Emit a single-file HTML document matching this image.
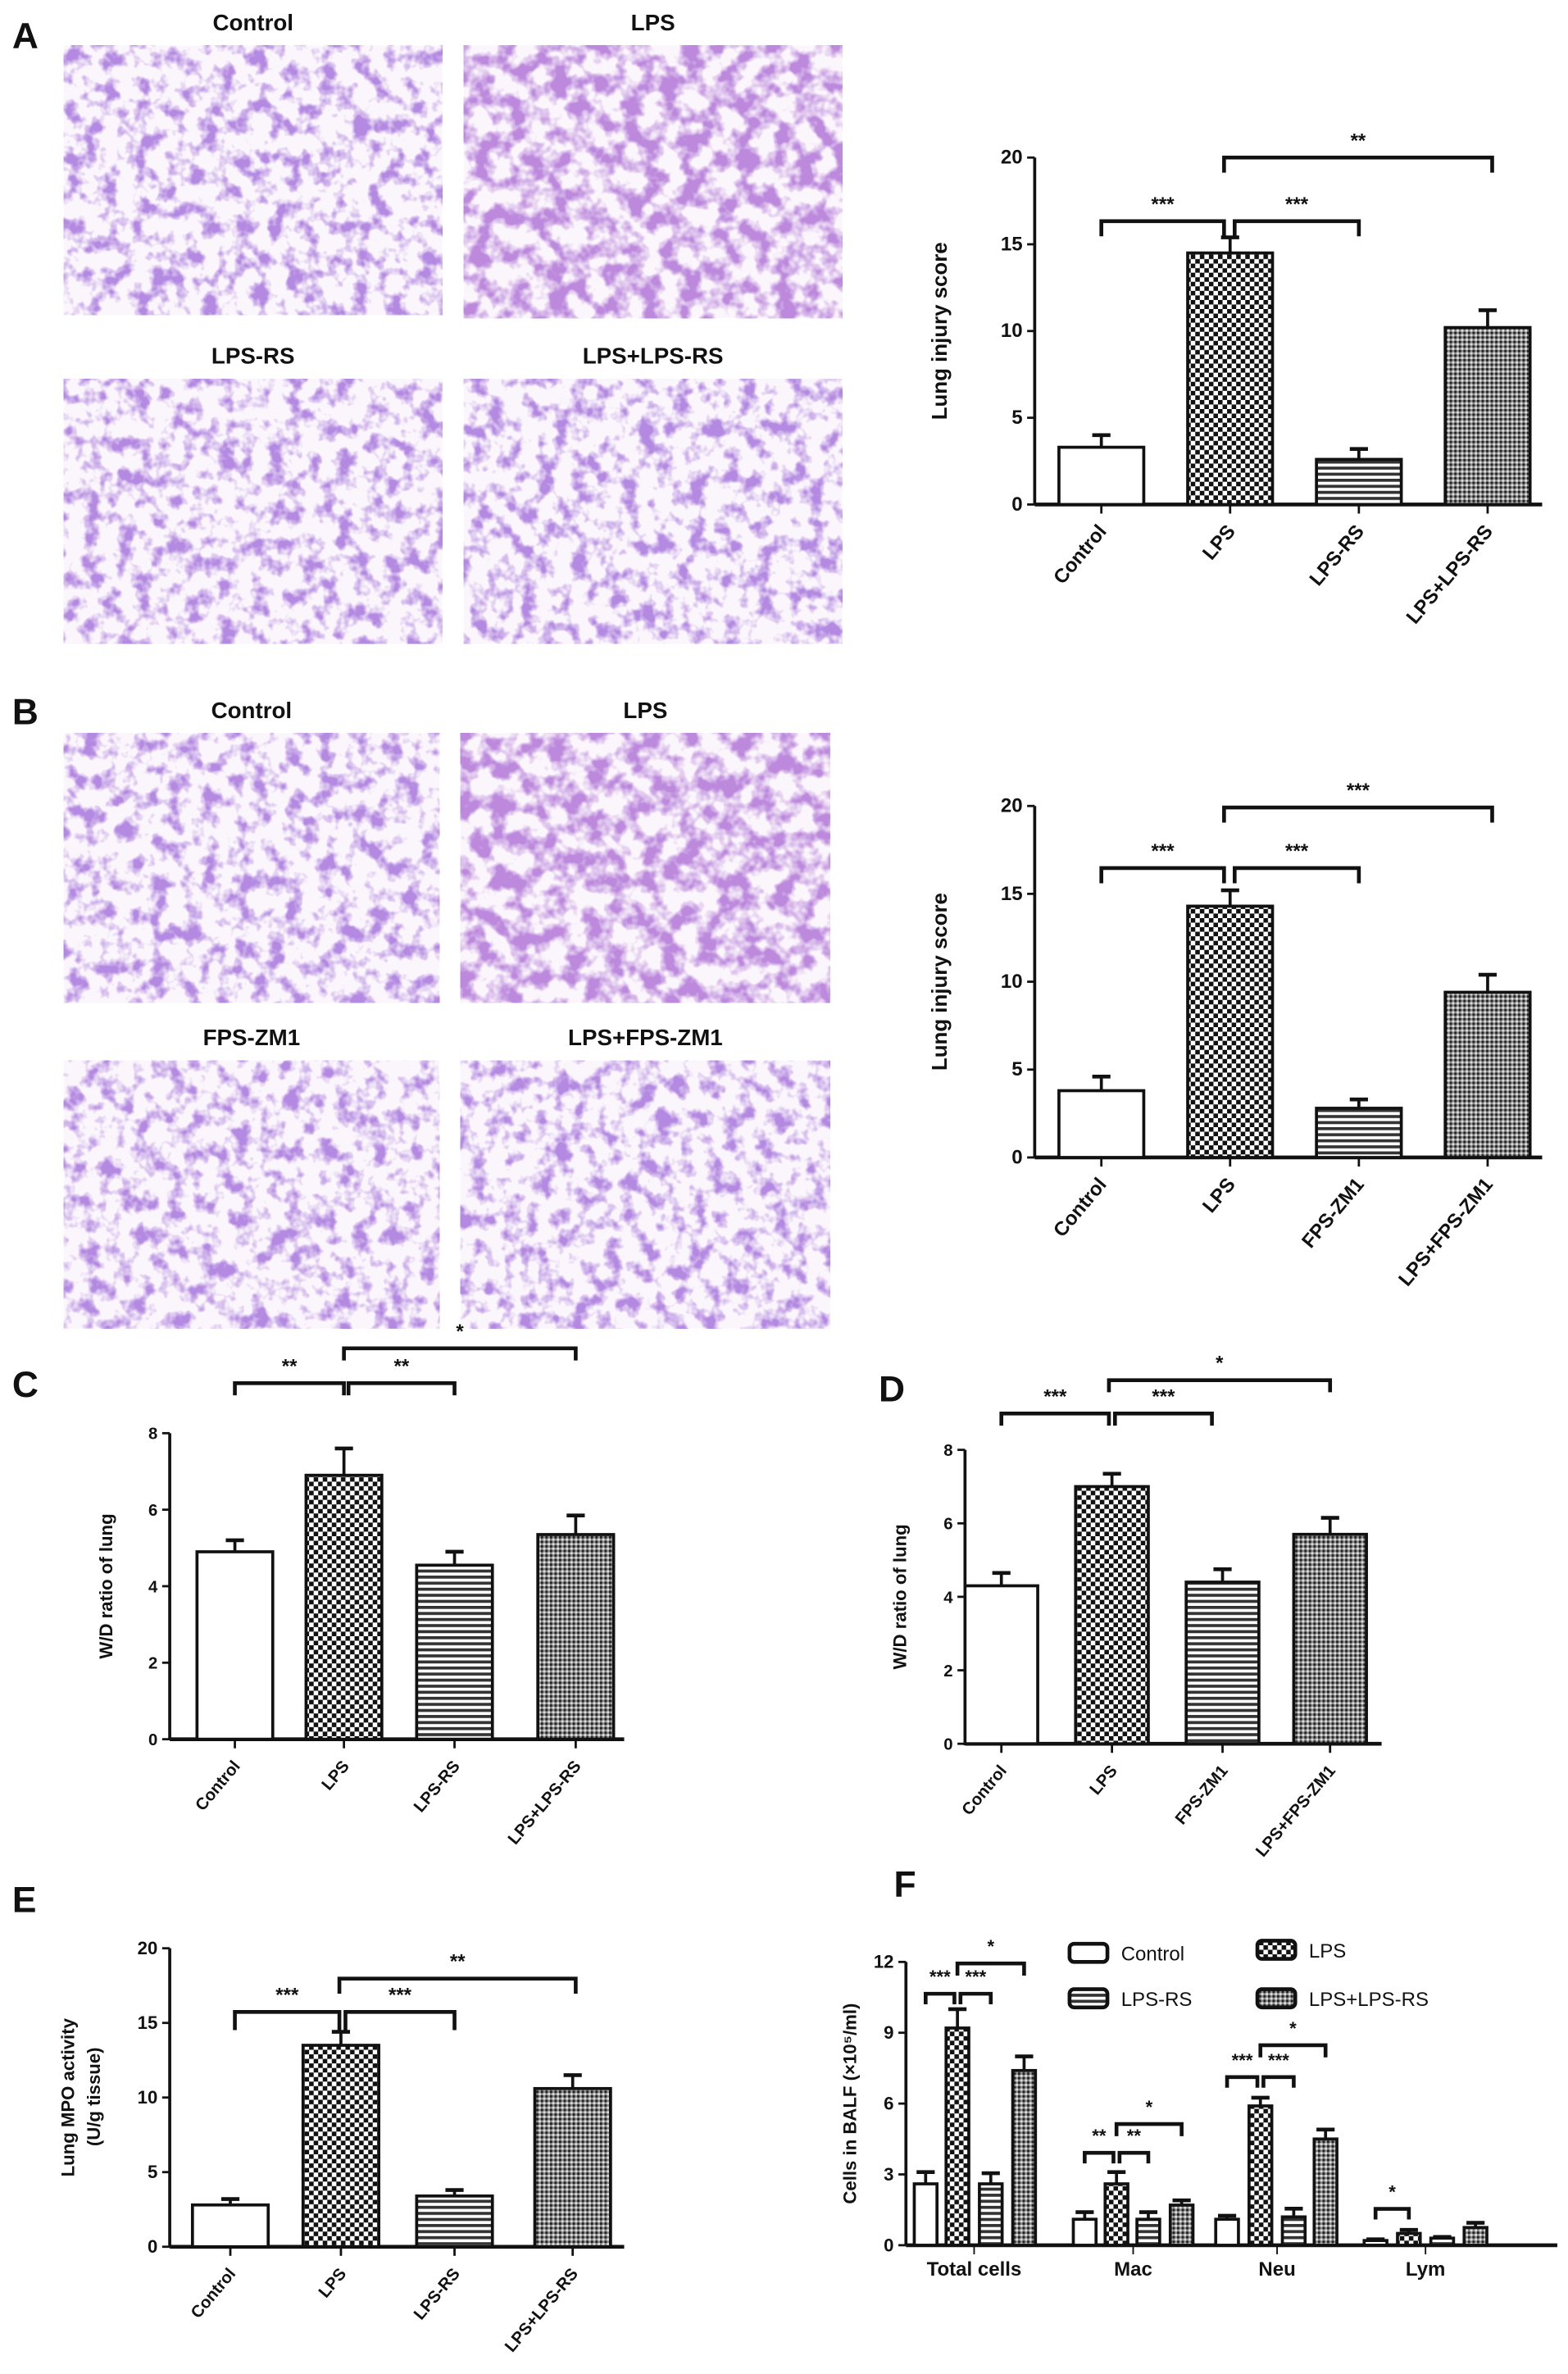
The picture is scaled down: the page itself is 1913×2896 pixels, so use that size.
<!DOCTYPE html>
<html><head><meta charset="utf-8"><style>
html,body{margin:0;padding:0;background:#fff;}
svg{display:block;}
text{font-family:"Liberation Sans",Arial,sans-serif;font-weight:bold;fill:#111;}
</style></head><body>
<svg id="s" width="1913" height="2896" viewBox="0 0 1035 1567" xmlns="http://www.w3.org/2000/svg">
<defs>
<pattern id="chk" width="6" height="6" patternUnits="userSpaceOnUse"><rect width="6" height="6" fill="#fff"/><rect width="3" height="3" fill="#111"/><rect x="3" y="3" width="3" height="3" fill="#111"/></pattern>
<pattern id="hor" width="4" height="4" patternUnits="userSpaceOnUse"><rect width="4" height="4" fill="#fff"/><rect width="4" height="2" fill="#333"/></pattern>
<pattern id="dot" width="3" height="3" patternUnits="userSpaceOnUse"><rect width="3" height="3" fill="#888"/><rect width="1.5" height="1.5" fill="#222"/><rect x="1.5" y="1.5" width="1.5" height="1.5" fill="#ddd"/></pattern>
<filter id="t1" x="0" y="0" width="100%" height="100%"><feTurbulence type="fractalNoise" baseFrequency="0.09" numOctaves="3" seed="3"/><feColorMatrix type="matrix" values="0 0 0 0 0.45  0 0 0 0 0.25  0 0 0 0 0.75  4 0 0 0 -1.85"/></filter>
<filter id="t2" x="0" y="0" width="100%" height="100%"><feTurbulence type="fractalNoise" baseFrequency="0.08" numOctaves="3" seed="7"/><feColorMatrix type="matrix" values="0 0 0 0 0.5  0 0 0 0 0.25  0 0 0 0 0.72  4 0 0 0 -1.6"/></filter>
</defs>
<g id="g"></g>
</svg>
<script>
const g=document.getElementById('g');let h='';
function T(x,y,s,sz,anchor,extra){h+=`<text x="${x}" y="${y}" font-size="${sz}" text-anchor="${anchor||'middle'}" ${extra||''}>${s}</text>`;}
function micro(x,y,w,hh,f,title){h+=`<rect x="${x}" y="${y}" width="${w}" height="${hh}" fill="#fbf6fb"/><rect x="${x}" y="${y}" width="${w}" height="${hh}" filter="url(#${f})"/>`;T(x+w/2,y-10,title,15);}
function chart(o){
 const {ax,y0,yt,vmax,ticks,xe,bars,labs,ylab,br}=o;
 const sc=v=>y0-(y0-yt)*v/vmax;
 h+=`<line x1="${ax}" y1="${yt}" x2="${ax}" y2="${y0}" stroke="#111" stroke-width="2"/><line x1="${ax}" y1="${y0}" x2="${xe}" y2="${y0}" stroke="#111" stroke-width="2.5"/>`;
 ticks.forEach(t=>{const y=sc(t);h+=`<line x1="${ax-5}" y1="${y}" x2="${ax}" y2="${y}" stroke="#111" stroke-width="1.5"/>`;T(ax-8,y+4,t,o.ts||13,'end');});
 bars.forEach(b=>{const y=sc(b.v),ye=sc(b.v+b.e);
  h+=`<line x1="${b.c}" y1="${y}" x2="${b.c}" y2="${ye}" stroke="#111" stroke-width="2"/><line x1="${b.c-6}" y1="${ye}" x2="${b.c+6}" y2="${ye}" stroke="#111" stroke-width="2.5"/>`;
  h+=`<rect x="${b.c-b.w/2}" y="${y}" width="${b.w}" height="${y0-y}" fill="${b.p}" stroke="#111" stroke-width="2"/>`;});
 if(labs){labs.forEach((l,i)=>{const c=bars[i].c;h+=`<line x1="${c}" y1="${y0}" x2="${c}" y2="${y0+6}" stroke="#111" stroke-width="1.5"/>`;T(c+4,y0+18,l,o.ls||13,'end',`font-style:italic transform="rotate(-50 ${c+4} ${y0+18})"`);});}
 T(0,0,ylab,o.ys||14,'middle',`transform="translate(${o.yx},${(y0+yt)/2}) rotate(-90)"`);
 (br||[]).forEach(b=>{const y=b[2];h+=`<path d="M${b[0]} ${y+b[4]} V${y} H${b[1]} V${y+b[4]}" fill="none" stroke="#111" stroke-width="2.5"/>`;T((b[0]+b[1])/2,y-7,b[3],o.ss||13);});
}
const P=['#fff','url(#chk)','url(#hor)','url(#dot)'];
// A
T(8,32,'A',24,'start');
micro(42,30,250,178,'t1','Control');micro(306,30,250,180,'t2','LPS');
micro(42,250,250,175,'t1','LPS-RS');micro(306,250,250,175,'t1','LPS+LPS-RS');
const cA=[727,812,897,982];
chart({ax:683,y0:333,yt:104,vmax:20,ticks:[0,5,10,15,20],xe:1018,yx:625,ylab:'Lung injury score',
 bars:[[3.3,0.7],[14.5,0.9],[2.6,0.6],[10.2,1.0]].map((d,i)=>({c:cA[i],w:56,v:d[0],e:d[1],p:P[i]})),
 labs:['Control','LPS','LPS-RS','LPS+LPS-RS'],
 br:[[727,808,146,'***',10],[815,897,146,'***',10],[808,985,104,'**',10]]});
// B
T(8,478,'B',24,'start');
micro(42,484,248,178,'t1','Control');micro(304,484,244,178,'t2','LPS');
micro(42,700,248,177,'t1','FPS-ZM1');micro(304,700,244,177,'t1','LPS+FPS-ZM1');
chart({ax:683,y0:764,yt:532,vmax:20,ticks:[0,5,10,15,20],xe:1018,yx:625,ylab:'Lung injury score',
 bars:[[3.8,0.8],[14.3,0.9],[2.8,0.5],[9.4,1.0]].map((d,i)=>({c:cA[i],w:56,v:d[0],e:d[1],p:P[i]})),
 labs:['Control','LPS','FPS-ZM1','LPS+FPS-ZM1'],
 br:[[727,808,573,'***',10],[815,897,573,'***',10],[808,985,533,'***',10]]});
// C
T(8,922,'C',24,'start');
const cC=[155,227,300,380];
chart({ax:112,y0:1148,yt:946,vmax:8,ticks:[0,2,4,6,8],xe:412,yx:74,ylab:'W/D ratio of lung',ys:12,ts:11,ls:11,
 bars:[[4.9,0.3],[6.9,0.7],[4.55,0.35],[5.35,0.5]].map((d,i)=>({c:cC[i],w:50,v:d[0],e:d[1],p:P[i]})),
 labs:['Control','LPS','LPS-RS','LPS+LPS-RS'],
 br:[[155,227,913,'**',8],[230,300,913,'**',8],[227,380,890,'*',8]]});
// D
T(580,925,'D',24,'start');
const cD=[661,734,807,878];
chart({ax:637,y0:1151,yt:957,vmax:8,ticks:[0,2,4,6,8],xe:912,yx:598,ylab:'W/D ratio of lung',ys:12,ts:11,ls:11,
 bars:[[4.3,0.35],[7.0,0.35],[4.4,0.35],[5.7,0.45]].map((d,i)=>({c:cD[i],w:48,v:d[0],e:d[1],p:P[i]})),
 labs:['Control','LPS','FPS-ZM1','LPS+FPS-ZM1'],
 br:[[661,732,933,'***',8],[736,800,933,'***',8],[732,878,911,'*',8]]});
// E
T(8,1262,'E',24,'start');
const cE=[152,225,300,378];
chart({ax:112,y0:1483,yt:1286,vmax:20,ticks:[0,5,10,15,20],xe:412,yx:49,ylab:'Lung MPO activity',ys:12,ts:12,ls:11,
 bars:[[2.8,0.4],[13.5,0.9],[3.4,0.4],[10.6,0.9]].map((d,i)=>({c:cE[i],w:50,v:d[0],e:d[1],p:P[i]})),
 labs:['Control','LPS','LPS-RS','LPS+LPS-RS'],
 br:[[155,224,1328,'***',12],[228,300,1328,'***',12],[224,380,1306,'**',10]]});
T(0,0,'(U/g tissue)',12,'middle','transform="translate(66,1384) rotate(-90)"');
// F
T(590,1252,'F',24,'start');
const groups=[[611,632,654,676],[716,737,758,780],[810,832,854,875],[908,930,952,974]];
const vals=[[[2.6,0.5],[9.2,0.8],[2.6,0.45],[7.4,0.6]],[[1.1,0.3],[2.6,0.5],[1.1,0.3],[1.7,0.2]],[[1.1,0.15],[5.9,0.35],[1.2,0.35],[4.5,0.4]],[[0.2,0.05],[0.5,0.15],[0.3,0.05],[0.75,0.2]]];
let fb=[];groups.forEach((gr,i)=>gr.forEach((c,j)=>fb.push({c:c,w:15,v:vals[i][j][0],e:vals[i][j][1],p:P[j]})));
chart({ax:598,y0:1482,yt:1295,vmax:12,ticks:[0,3,6,9,12],xe:1028,yx:565,ylab:'Cells in BALF (×10⁵/ml)',ys:12,ts:12,
 bars:fb,ss:12,
 br:[[611,630,1316,'***',7],[634,654,1316,'***',7],[632,676,1296,'*',8],[716,735,1421,'**',7],[739,758,1421,'**',7],[737,780,1402,'*',8],[810,830,1371,'***',7],[834,854,1371,'***',7],[832,875,1350,'*',8],[908,930,1458,'*',7]]});
[['Total cells',643],['Mac',748],['Neu',843],['Lym',941]].forEach(l=>{h+=`<line x1="${l[1]}" y1="1482" x2="${l[1]}" y2="1488" stroke="#111"/>`;T(l[1],1502,l[0],13);});
[[706,1290,'Control',0],[830,1288,'LPS',1],[706,1320,'LPS-RS',2],[830,1320,'LPS+LPS-RS',3]].forEach(l=>{h+=`<rect x="${l[0]}" y="${l[1]-7}" width="25" height="12" rx="3" fill="${P[l[3]]}" stroke="#111" stroke-width="2.5"/>`;h+=`<text x="${l[0]+34}" y="${l[1]+4}" font-size="13" style="font-weight:normal">${l[2]}</text>`;});
g.innerHTML=h;
</script>
</body></html>
